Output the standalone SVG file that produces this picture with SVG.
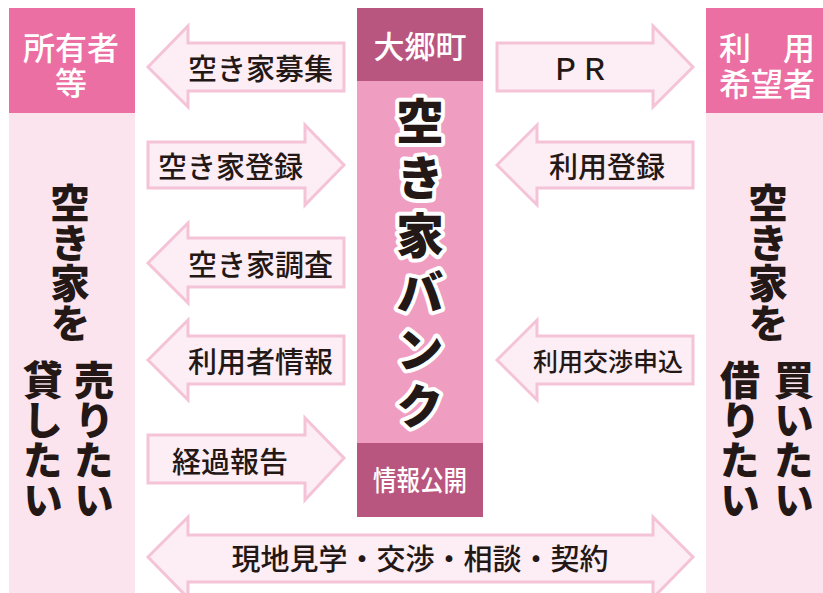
<svg xmlns="http://www.w3.org/2000/svg" width="823" height="593" viewBox="0 0 823 593">
<style>
.arrow{fill:#fdedf4;stroke:#f5c3d8;stroke-width:3;stroke-linejoin:miter}
.lbl{font-family:"Noto Sans CJK JP","Noto Sans",sans-serif;font-size:29px;font-weight:500;fill:#231815;dominant-baseline:central}
.hdr{font-family:"Noto Sans CJK JP","Noto Sans",sans-serif;font-size:32px;font-weight:500;fill:#ffffff;text-anchor:middle;dominant-baseline:central}
.vt{font-family:"Noto Sans CJK JP","Noto Sans",sans-serif;font-size:40px;font-weight:900;fill:#231815;writing-mode:vertical-rl;text-orientation:upright}
.bank{font-family:"Noto Sans CJK JP","Noto Sans",sans-serif;font-size:48px;font-weight:900;fill:#231815;stroke:#ffffff;stroke-width:8;stroke-linejoin:round;paint-order:stroke;writing-mode:vertical-rl;text-orientation:upright;letter-spacing:9px}
</style>
<rect width="823" height="593" fill="#ffffff"/>
<g id="owner">
<rect x="9" y="113" width="126" height="480" fill="#fce4ef"/>
<rect x="9" y="8" width="126" height="105" fill="#eb6fa2"/>
<text class="hdr"><tspan x="71" y="46">所有者</tspan><tspan x="71" y="81">等</tspan></text>
<text class="vt" x="70" y="183">空き家を</text>
<text class="vt" x="94" y="360">売りたい</text>
<text class="vt" x="43" y="360">貸したい</text>
</g>
<g id="bank">
<rect x="357" y="81" width="126" height="362" fill="#f09dc2"/>
<rect x="357" y="8" width="126" height="73" fill="#b9567f"/>
<rect x="357" y="443" width="126" height="74" fill="#b9567f"/>
<text class="hdr" x="420" y="44" style="font-size:31px">大郷町</text>
<text class="hdr" x="420" y="479" style="font-size:28px" textLength="94" lengthAdjust="spacingAndGlyphs">情報公開</text>
<text class="bank" x="420" y="97">空き家バンク</text>
</g>
<g id="user">
<rect x="706" y="113" width="117" height="480" fill="#fce4ef"/>
<rect x="706" y="8" width="117" height="105" fill="#eb6fa2"/>
<text class="hdr"><tspan x="767" y="46">利　用</tspan><tspan x="767" y="82">希望者</tspan></text>
<text class="vt" x="768" y="183">空き家を</text>
<text class="vt" x="794" y="360">買いたい</text>
<text class="vt" x="740" y="360">借りたい</text>
</g>
<g id="connectors">
<polygon class="arrow" points="148,67 188,26 188,43 344,43 344,91 188,91 188,107"/>
<text class="lbl" x="333" y="67" text-anchor="end">空き家募集</text>
<polygon class="arrow" points="344,165 305,125 305,142 148,142 148,188 305,188 305,205"/>
<text class="lbl" x="158" y="165">空き家登録</text>
<polygon class="arrow" points="148,263 188,223 188,238 344,238 344,287 188,287 188,303"/>
<text class="lbl" x="333" y="263" text-anchor="end">空き家調査</text>
<polygon class="arrow" points="148,360 188,320 188,336 344,336 344,384 188,384 188,400"/>
<text class="lbl" x="333" y="360" text-anchor="end">利用者情報</text>
<polygon class="arrow" points="344,458 305,418 305,435 148,435 148,483 305,483 305,500"/>
<text class="lbl" x="172" y="460">経過報告</text>
<polygon class="arrow" points="693,67 653,26 653,43 497,43 497,91 653,91 653,107"/>
<text class="lbl" x="580" y="67" text-anchor="middle">ＰＲ</text>
<polygon class="arrow" points="497,165 537,125 537,142 693,142 693,188 537,188 537,205"/>
<text class="lbl" x="607" y="165" text-anchor="middle">利用登録</text>
<polygon class="arrow" points="497,360 537,320 537,336 693,336 693,384 537,384 537,400"/>
<text class="lbl" x="608" y="360" text-anchor="middle" style="font-size:25px">利用交渉申込</text>
<polygon class="arrow" points="148,557 188,517 188,535 653,535 653,517 693,557 653,598 653,582 188,582 188,598"/>
<text class="lbl" x="420" y="557" text-anchor="middle">現地見学・交渉・相談・契約</text>
</g>
</svg>
